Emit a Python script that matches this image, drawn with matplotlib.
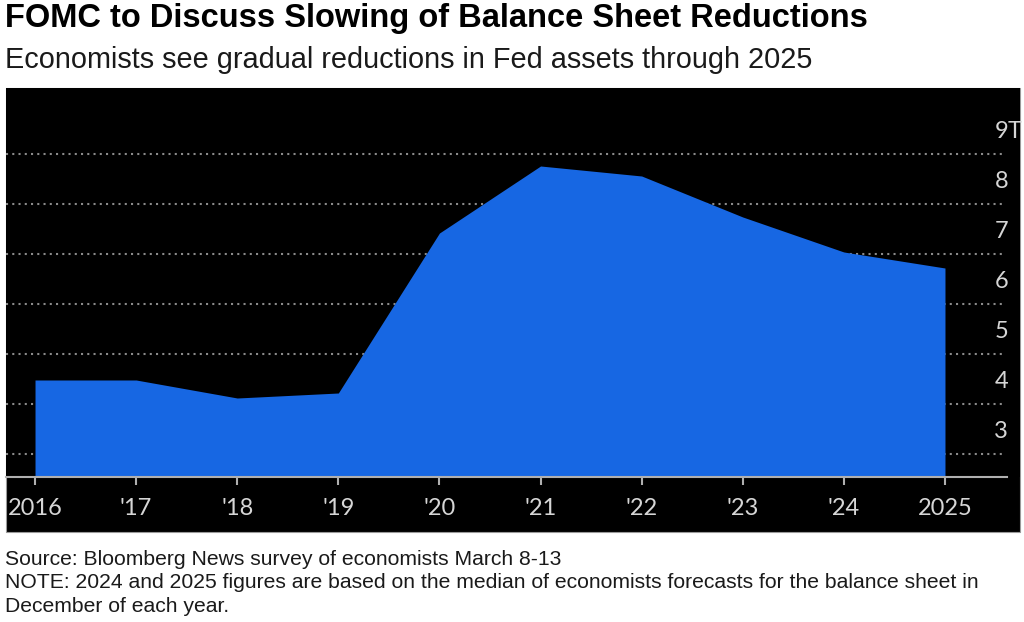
import matplotlib.pyplot as plt
from matplotlib.patches import Rectangle
from matplotlib.transforms import blended_transform_factory

# Fed balance sheet, trillions of dollars (2024-25 are survey forecasts)
years = [2016, 2017, 2018, 2019, 2020, 2021, 2022, 2023, 2024, 2025]
assets = [4.48, 4.48, 4.12, 4.22, 7.42, 8.76, 8.56, 7.74, 7.04, 6.72]
xlabels = ['2016', "'17", "'18", "'19", "'20", "'21", "'22", "'23", "'24", '2025']
yticks = [3, 4, 5, 6, 7, 8, 9]

title = 'FOMC to Discuss Slowing of Balance Sheet Reductions'
subtitle = 'Economists see gradual reductions in Fed assets through 2025'
notes = ['Source: Bloomberg News survey of economists March 8-13',
         'NOTE: 2024 and 2025 figures are based on the median of economists forecasts for the balance sheet in',
         'December of each year.']

W, H = 1024, 622
fig = plt.figure(figsize=(W / 100, H / 100), dpi=100)

# black panel behind the chart
fig.patches.append(Rectangle((6 / W, 1 - 532 / H), 1014 / W, 444 / H,
                             transform=fig.transFigure, facecolor='black',
                             edgecolor='#9a9a9a', lw=0.8, zorder=-10))

ax = fig.add_axes([6 / W, 1 - 477 / H, 1014 / W, 389 / H])
ax.set_facecolor('black')
x0, x1 = 2015.713, 2025.742
ax.set_xlim(x0, x1)
ax.set_ylim(2.54, 10.32)

ax.hlines(yticks, x0, 2025.6, colors='#8a8a8a', linestyles=(0, (1, 2)), lw=1.5, zorder=1)
ax.fill_between(years, assets, 2.54, color='#1767e3', lw=0, zorder=2)

for s in ['top', 'left', 'right']:
    ax.spines[s].set_visible(False)
ax.spines['bottom'].set_color('#b0b0b0')
ax.spines['bottom'].set_linewidth(1.5)
ax.spines['bottom'].set_bounds(x0, 2025.613)

lab_font = 'Lato'
ax.set_xticks(years)
ax.set_xticklabels(xlabels, fontsize=17, color='#d6d6d6', family=lab_font)
ax.tick_params(axis='x', length=6, width=1.5, color='#b0b0b0', pad=9)
ax.set_yticks([])

tr = blended_transform_factory(fig.transFigure, ax.transData)
for v in yticks:
    ax.text(1008 / W, v + 0.44, str(v), transform=tr, ha='right', va='center',
            fontsize=17, color='#d6d6d6', family=lab_font)
ax.text(1008 / W, 9.44, 'T', transform=tr, ha='left', va='center',
        fontsize=17, color='#d6d6d6', family=lab_font)

fig.text(5 / W, 1 - 27 / H, title, fontsize=23.5, fontweight='bold',
         family='Liberation Sans', va='baseline')
fig.text(5 / W, 1 - 68 / H, subtitle, fontsize=20.8,
         family='Liberation Sans', va='baseline', color='#1a1a1a')
for i, line in enumerate(notes):
    fig.text(5 / W, 1 - (565 + 23.5 * i) / H, line, fontsize=15.25,
             family='Liberation Sans', va='baseline', color='#1a1a1a')

fig.savefig('out.png', dpi=100, facecolor='white')
